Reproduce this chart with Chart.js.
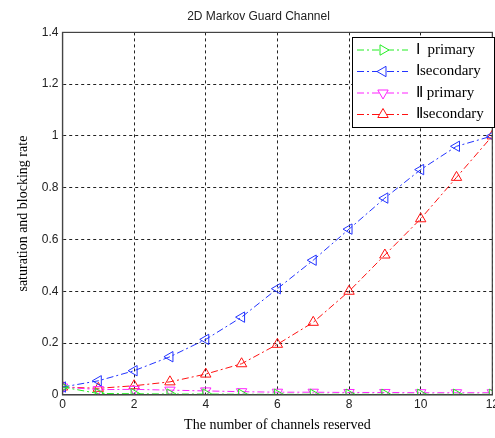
<!DOCTYPE html>
<html>
<head>
<meta charset="utf-8">
<script src="https://cdn.jsdelivr.net/npm/chart.js@4"></script>
<style>
  html, body { margin: 0; padding: 0; background: #fff; overflow: hidden; }
  #wrap { width: 502px; height: 438px; }
</style>
</head>
<body>
<div id="wrap"><canvas id="c"></canvas></div>
<script>
const channels = [0, 1, 2, 3, 4, 5, 6, 7, 8, 9, 10, 11, 12];
const primary1 = [0.03, 0.005, 0.004, 0.003, 0.003, 0.002, 0.002, 0.002, 0.002, 0.002, 0.002, 0.002, 0.002];
const secondary1 = [0.03, 0.054, 0.093, 0.147, 0.214, 0.30, 0.41, 0.52, 0.64, 0.76, 0.87, 0.96, 1.0];
const primary2 = [0.03, 0.02, 0.021, 0.018, 0.015, 0.012, 0.01, 0.01, 0.009, 0.009, 0.008, 0.008, 0.008];
const secondary2 = [0.03, 0.025, 0.035, 0.05, 0.08, 0.12, 0.195, 0.28, 0.40, 0.54, 0.68, 0.84, 1.0];
const seriesNames = ['Ⅰ  primary', 'Ⅰsecondary', 'Ⅱ primary', 'Ⅱsecondary'];
const yTicks = [0, 0.2, 0.4, 0.6, 0.8, 1, 1.2, 1.4];

const dashDot = [7, 3, 2, 3];

const makeSet = (label, values, color, rotation) => ({
  label: label,
  data: values,
  borderColor: color,
  backgroundColor: 'rgba(0,0,0,0)',
  borderWidth: 1,
  borderDash: dashDot,
  pointStyle: 'triangle',
  rotation: rotation,
  pointRadius: 6,
  pointBorderWidth: 1,
  pointBorderColor: color,
  pointBackgroundColor: 'rgba(0,0,0,0)',
  tension: 0
});

// frame around plot area + legend box inside top right corner
const framePlugin = {
  id: 'frame',
  afterDraw(chart) {
    const ctx = chart.ctx;
    const a = chart.chartArea;
    ctx.save();
    ctx.strokeStyle = '#444';
    ctx.lineWidth = 1.2;
    ctx.setLineDash([]);
    ctx.strokeRect(a.left, a.top, a.right - a.left, a.bottom - a.top);

    const bx = 352, by = 37, bw = 142, bh = 90;
    ctx.fillStyle = '#fff';
    ctx.fillRect(bx, by, bw, bh);
    ctx.strokeStyle = '#000';
    ctx.lineWidth = 1;
    ctx.strokeRect(bx + 0.5, by + 0.5, bw, bh);

    chart.data.datasets.forEach((ds, i) => {
      const y = by + 13 + i * 21.5;
      ctx.strokeStyle = ds.borderColor;
      ctx.lineWidth = 1;
      ctx.setLineDash(dashDot);
      ctx.beginPath();
      ctx.moveTo(bx + 5, y);
      ctx.lineTo(bx + 56, y);
      ctx.stroke();
      ctx.setLineDash([]);
      ctx.fillStyle = '#fff';
      Chart.helpers.drawPoint(ctx, {
        pointStyle: 'triangle', rotation: ds.rotation, radius: 6, borderWidth: 1
      }, bx + 31, y);
      ctx.fillStyle = '#000';
      ctx.font = '15px "Liberation Serif", "Times New Roman", serif';
      ctx.textBaseline = 'middle';
      ctx.fillText(ds.label, bx + 64, y);
    });
    ctx.restore();
  }
};

new Chart(document.getElementById('c'), {
  type: 'line',
  data: {
    labels: channels,
    datasets: [
      makeSet(seriesNames[0], primary1, '#22ee22', 90),
      makeSet(seriesNames[1], secondary1, '#2233ff', 270),
      makeSet(seriesNames[2], primary2, '#ff22ff', 180),
      makeSet(seriesNames[3], secondary2, '#ff1111', 0)
    ]
  },
  options: {
    responsive: true,
    maintainAspectRatio: false,
    animation: false,
    layout: { padding: { left: 15, top: 0, right: 0, bottom: 4 } },
    plugins: {
      legend: { display: false },
      tooltip: { enabled: false },
      title: {
        display: true,
        text: '2D Markov Guard Channel',
        color: '#222',
        font: { family: '"Liberation Sans", Arial, sans-serif', size: 12, weight: 'normal' },
        padding: { top: 9, bottom: 9 }
      }
    },
    scales: {
      x: {
        type: 'linear',
        min: 0,
        max: 12,
        ticks: {
          stepSize: 2,
          color: '#222',
          padding: 3,
          maxRotation: 0,
          font: { family: '"Liberation Sans", Arial, sans-serif', size: 12 }
        },
        grid: { color: '#222', lineWidth: 1, drawTicks: false },
        border: { display: true, color: '#444', width: 1.2, dash: [3, 3] },
        title: {
          display: true,
          text: 'The number of channels reserved',
          color: '#000',
          padding: { top: 2, bottom: 0 },
          font: { family: '"Liberation Serif", "Times New Roman", serif', size: 14 }
        }
      },
      y: {
        min: 0,
        max: 1.4,
        afterBuildTicks(axis) {
          axis.ticks = yTicks.map(v => ({ value: v }));
        },
        ticks: {
          color: '#222',
          padding: 4,
          callback: v => String(Math.round(v * 10) / 10),
          font: { family: '"Liberation Sans", Arial, sans-serif', size: 12 }
        },
        grid: { color: '#222', lineWidth: 1, drawTicks: false },
        border: { display: true, color: '#444', width: 1.2, dash: [3, 3] },
        title: {
          display: true,
          text: 'saturation and blocking rate',
          color: '#000',
          padding: { top: 0, bottom: 6 },
          font: { family: '"Liberation Serif", "Times New Roman", serif', size: 14 }
        }
      }
    }
  },
  plugins: [framePlugin]
});
</script>
</body>
</html>
